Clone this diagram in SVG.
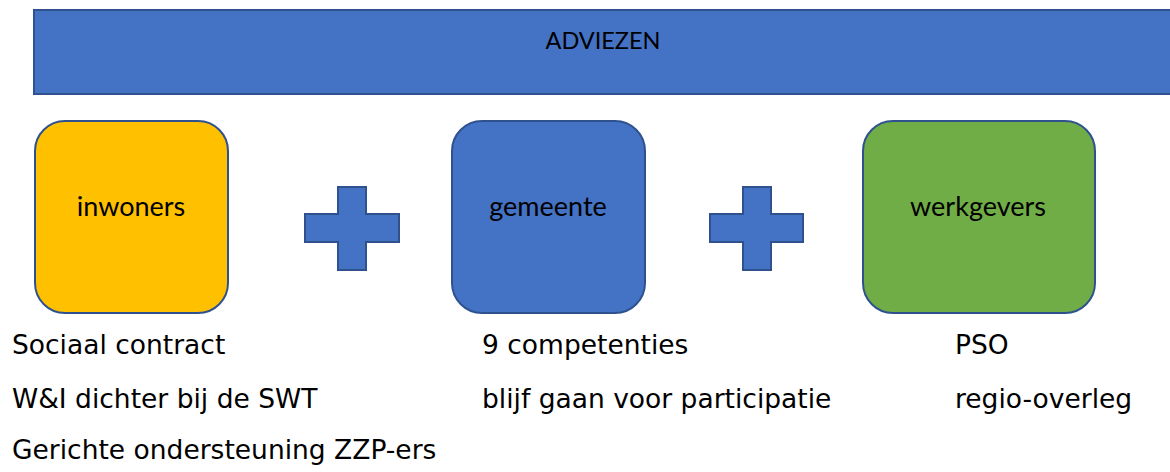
<svg xmlns="http://www.w3.org/2000/svg" width="1170" height="472" viewBox="0 0 1170 472">
<style>
.shape{stroke:#2F528F;stroke-width:2}
.blue{fill:#4472C4}
.yellow{fill:#FFC000}
.green{fill:#70AD47}
.lbl{font-family:Lato,"Liberation Sans",sans-serif;font-size:27px;fill:#000;text-anchor:middle}
.head{font-size:23.5px}
.note{font-family:"DejaVu Sans",Verdana,sans-serif;font-size:26.5px;fill:#000}
</style>
<rect width="1170" height="472" fill="#fff"/>
<g id="adviezen">
<rect class="shape blue" x="34" y="10" width="1150" height="84"/>
<text class="lbl head" x="603" y="49">ADVIEZEN</text>
</g>
<g id="inwoners">
<rect class="shape yellow" x="35" y="121" width="193" height="192" rx="30"/>
<text class="lbl" x="131" y="216">inwoners</text>
</g>
<g id="plus1">
<path class="shape blue" d="M338,187H366V214H399V242H366V270H338V242H305V214H338Z"/>
</g>
<g id="gemeente">
<rect class="shape blue" x="452" y="121" width="193" height="192" rx="30"/>
<text class="lbl" x="548" y="216">gemeente</text>
</g>
<g id="plus2">
<path class="shape blue" d="M743,187H771V214H803V242H771V270H743V242H710V214H743Z"/>
</g>
<g id="werkgevers">
<rect class="shape green" x="863" y="121" width="232" height="192" rx="30"/>
<text class="lbl" x="978" y="216">werkgevers</text>
</g>
<g id="connectors"></g>
<g id="notes">
<text class="note" x="12" y="354">Sociaal contract</text>
<text class="note" x="12" y="408">W&amp;I dichter bij de SWT</text>
<text class="note" x="12" y="459">Gerichte ondersteuning ZZP-ers</text>
<text class="note" x="482" y="354">9 competenties</text>
<text class="note" x="482" y="408">blijf gaan voor participatie</text>
<text class="note" x="955" y="354">PSO</text>
<text class="note" x="955" y="408">regio-overleg</text>
</g>
</svg>
